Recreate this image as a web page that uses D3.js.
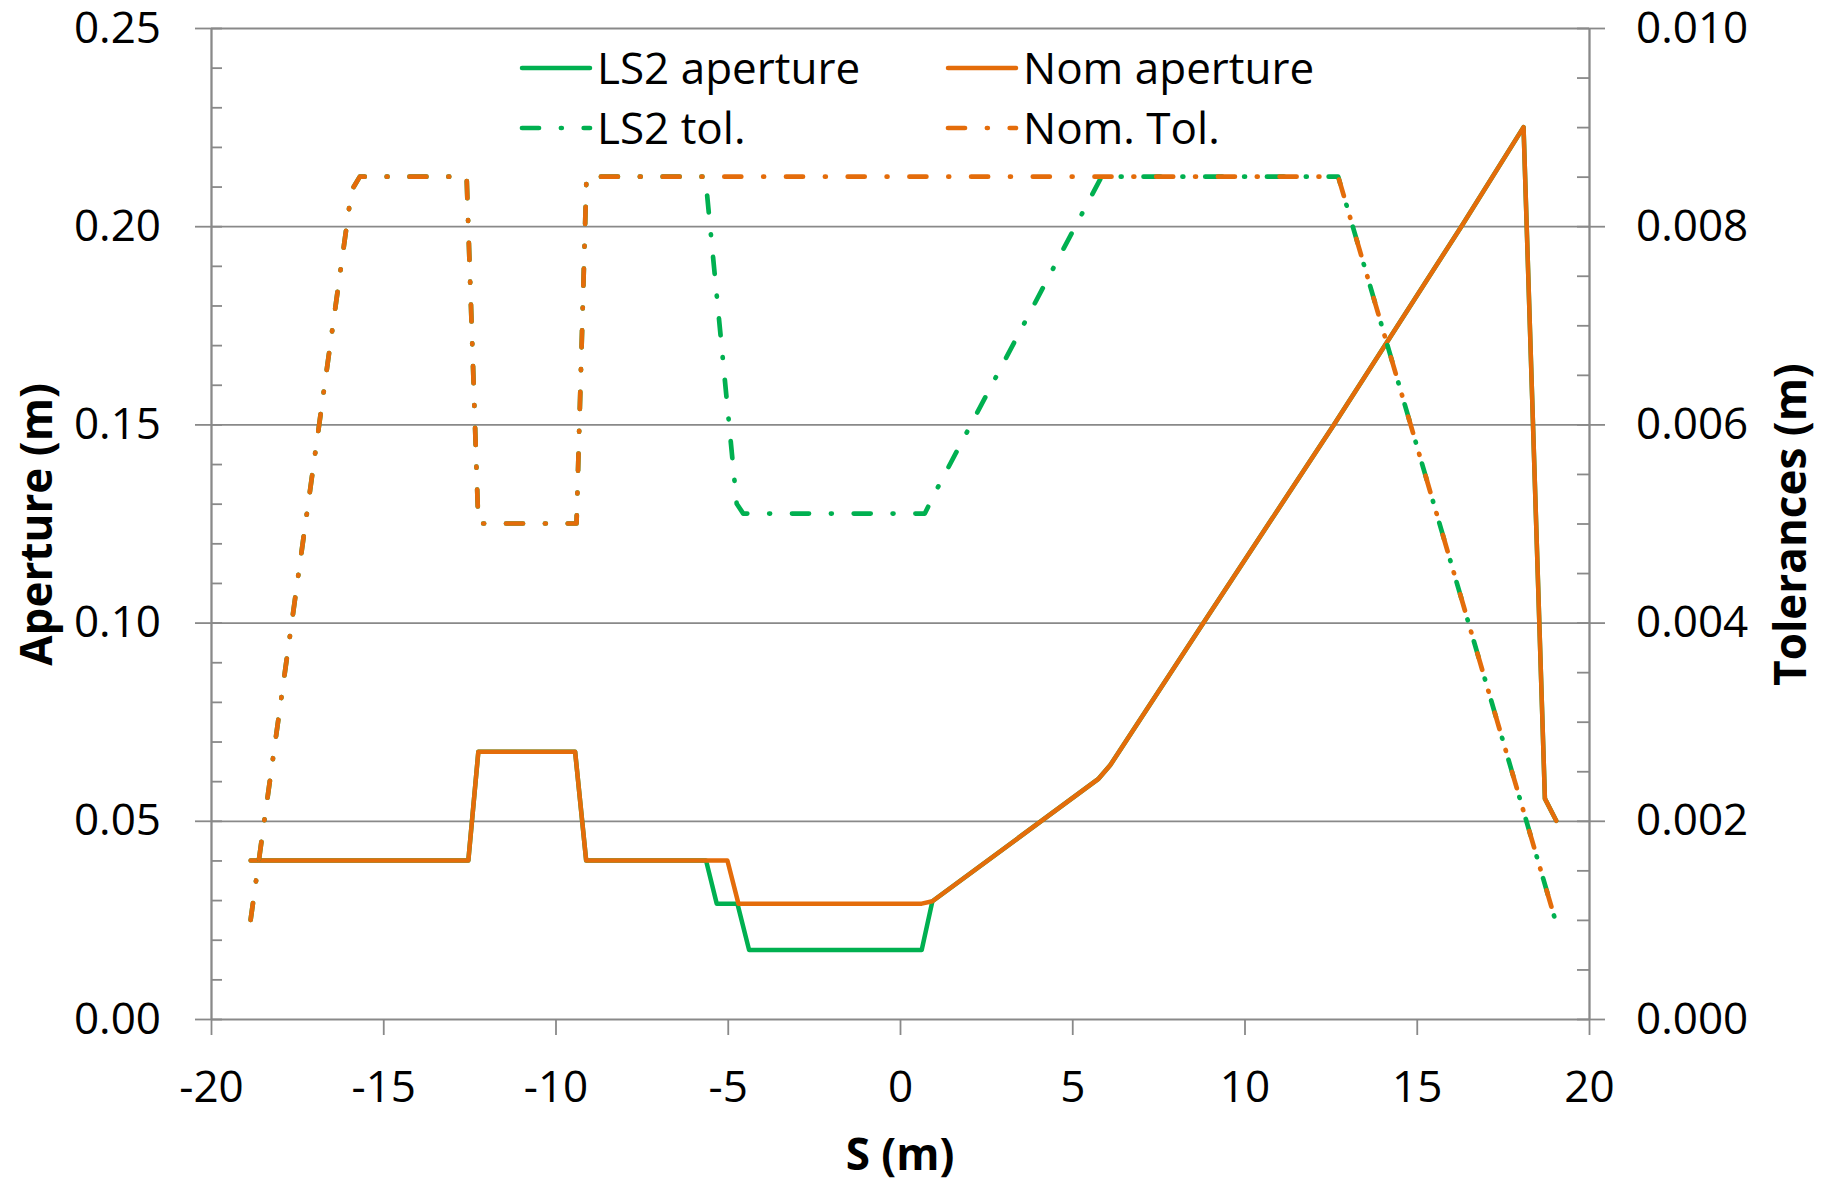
<!DOCTYPE html>
<html>
<head>
<meta charset="utf-8">
<script src="https://cdn.jsdelivr.net/npm/d3@7"></script>
<style>
  html, body { margin: 0; padding: 0; background: #fff; }
  svg text { font-family: "Open Sans", "Noto Sans", sans-serif; fill: #000; }
</style>
</head>
<body>
<svg id="chart" width="1831" height="1182"></svg>
<script>
// Position along the line, S (m)
const sNomAp  = [-18.85, -12.53, -12.24, -9.43, -9.11, -5.01, -4.69, 0.63, 0.94, 5.75, 6.1, 8.7, 12.6, 16.3, 18.1, 18.72, 19.05];
const nomAp   = [0.040, 0.040, 0.0674, 0.0674, 0.040, 0.040, 0.0291, 0.0291, 0.0297, 0.0605, 0.064, 0.0985, 0.150, 0.200, 0.225, 0.0556, 0.0500];

const sLs2Ap  = [-18.85, -12.53, -12.24, -9.43, -9.11, -5.63, -5.32, -4.72, -4.38, 0.63, 0.94, 5.75, 6.1, 8.7, 12.6, 16.3, 18.1, 18.72, 19.05];
const ls2Ap   = [0.040, 0.040, 0.0674, 0.0674, 0.040, 0.040, 0.0291, 0.0291, 0.0174, 0.0174, 0.0297, 0.0605, 0.064, 0.0985, 0.150, 0.200, 0.225, 0.0556, 0.0500];

const sNomTol = [-18.85, -15.92, -15.68, -12.58, -12.24, -9.39, -9.1, 12.72, 19.02];
const nomTol  = [0.001, 0.00836, 0.0085, 0.0085, 0.005, 0.005, 0.0085, 0.0085, 0.001];

const sLs2Tol = [-18.85, -15.92, -15.68, -12.58, -12.24, -9.39, -9.1, -5.65, -4.74, -4.55, 0.72, 1.0, 5.85, 12.72, 19.02];
const ls2Tol  = [0.001, 0.00836, 0.0085, 0.0085, 0.005, 0.005, 0.0085, 0.0085, 0.0052, 0.0051, 0.0051, 0.0053, 0.0085, 0.0085, 0.001];

// Axis ticks
const xTicks       = [-20, -15, -10, -5, 0, 5, 10, 15, 20];
const yTicks       = [0, 0.05, 0.10, 0.15, 0.20, 0.25];
const yMinorTicks  = d3.range(0, 0.2501, 0.01);
const y2Ticks      = [0, 0.002, 0.004, 0.006, 0.008, 0.010];
const y2MinorTicks = d3.range(0, 0.01001, 0.0005);

const GREEN = "#00B050", ORANGE = "#E46C0A", GRID = "#898989";
const FONT = 44;

const svg = d3.select("#chart");
const plotL = 211, plotR = 1589, plotT = 28, plotB = 1019;

const x  = d3.scaleLinear().domain([-20, 20]).range([plotL, plotR]);
const y  = d3.scaleLinear().domain([0, 0.25]).range([plotB, plotT]);
const y2 = d3.scaleLinear().domain([0, 0.010]).range([plotB, plotT]);

function styleAxis(g) {
  g.selectAll("path.domain").attr("stroke", GRID).attr("stroke-width", 1.8);
  g.selectAll(".tick line").attr("stroke", GRID).attr("stroke-width", 1.8);
  g.selectAll(".tick text").attr("font-size", FONT).attr("fill", "#000")
    .style("font-family", '"Open Sans", sans-serif');
}

// Horizontal gridlines
svg.append("g")
  .attr("transform", `translate(${plotL},0)`)
  .call(d3.axisLeft(y).tickValues(yTicks.slice(1)).tickSize(-(plotR - plotL)).tickFormat(""))
  .call(g => g.select(".domain").remove())
  .call(styleAxis);

// Left axis: minor ticks inside, major ticks outside with labels
svg.append("g")
  .attr("transform", `translate(${plotL},0)`)
  .call(d3.axisLeft(y).tickValues(yMinorTicks).tickSizeInner(-11).tickSizeOuter(0).tickFormat(""))
  .call(styleAxis);
svg.append("g")
  .attr("transform", `translate(${plotL},0)`)
  .call(d3.axisLeft(y).tickValues(yTicks).tickSizeInner(16).tickSizeOuter(0)
    .tickPadding(34).tickFormat(d3.format(".2f")))
  .call(styleAxis);

// Right axis (tolerances)
svg.append("g")
  .attr("transform", `translate(${plotR},0)`)
  .call(d3.axisRight(y2).tickValues(y2MinorTicks).tickSizeInner(-12).tickSizeOuter(0).tickFormat(""))
  .call(styleAxis);
svg.append("g")
  .attr("transform", `translate(${plotR},0)`)
  .call(d3.axisRight(y2).tickValues(y2Ticks).tickSizeInner(16).tickSizeOuter(0)
    .tickPadding(31).tickFormat(d3.format(".3f")))
  .call(styleAxis);

// Bottom axis
svg.append("g")
  .attr("transform", `translate(0,${plotB})`)
  .call(d3.axisBottom(x).tickValues(xTicks).tickSizeInner(16).tickSizeOuter(0)
    .tickPadding(36).tickFormat(d => String(d)))
  .call(styleAxis);

// Series
const lineAp  = d3.line().x(d => x(d[0])).y(d => y(d[1]));
const lineTol = d3.line().x(d => x(d[0])).y(d => y2(d[1]));
const DASH = "17,21.9,0.9,21.9";

const series = [
  { name: "LS2 aperture", s: sLs2Ap,  v: ls2Ap,  color: GREEN,  dash: null, gen: lineAp },
  { name: "Nom aperture", s: sNomAp,  v: nomAp,  color: ORANGE, dash: null, gen: lineAp },
  { name: "LS2 tol.",     s: sLs2Tol, v: ls2Tol, color: GREEN,  dash: DASH, gen: lineTol },
  { name: "Nom. Tol.",    s: sNomTol, v: nomTol, color: ORANGE, dash: DASH, gen: lineTol }
];

svg.append("g").selectAll("path")
  .data(series)
  .join("path")
  .attr("d", d => d.gen(d.s.map((s, i) => [s, d.v[i]])))
  .attr("fill", "none")
  .attr("stroke", d => d.color)
  .attr("stroke-width", d => d.dash ? 4.7 : 4.5)
  .attr("stroke-linejoin", "round")
  .attr("stroke-linecap", "round")
  .attr("stroke-dasharray", d => d.dash);

// Legend (two columns, two rows)
const legendPos = [
  { x1: 522, x2: 590, ty: 83.5 },
  { x1: 948, x2: 1016, ty: 83.5 },
  { x1: 522, x2: 590, ty: 143.5 },
  { x1: 948, x2: 1016, ty: 143.5 }
];
const legend = svg.append("g").selectAll("g")
  .data(series)
  .join("g");
legend.append("line")
  .attr("x1", (d, i) => legendPos[i].x1)
  .attr("x2", (d, i) => legendPos[i].x2)
  .attr("y1", (d, i) => legendPos[i].ty - 15.5)
  .attr("y2", (d, i) => legendPos[i].ty - 15.5)
  .attr("stroke", d => d.color)
  .attr("stroke-width", d => d.dash ? 4.7 : 4.5)
  .attr("stroke-linecap", "round")
  .attr("stroke-dasharray", d => d.dash);
legend.append("text")
  .attr("x", (d, i) => legendPos[i].x2 + 7)
  .attr("y", (d, i) => legendPos[i].ty)
  .attr("font-size", FONT)
  .text(d => d.name);

// Axis titles
svg.append("text")
  .attr("x", (plotL + plotR) / 2)
  .attr("y", 1170)
  .attr("text-anchor", "middle")
  .attr("font-size", FONT)
  .attr("font-weight", "bold")
  .text("S (m)");

svg.append("text")
  .attr("transform", `translate(52,${(plotT + plotB) / 2 + 1}) rotate(-90)`)
  .attr("text-anchor", "middle")
  .attr("font-size", FONT)
  .attr("font-weight", "bold")
  .text("Aperture (m)");

svg.append("text")
  .attr("transform", `translate(1806,${(plotT + plotB) / 2 + 1}) rotate(-90)`)
  .attr("text-anchor", "middle")
  .attr("font-size", FONT)
  .attr("font-weight", "bold")
  .text("Tolerances (m)");
</script>
</body>
</html>
